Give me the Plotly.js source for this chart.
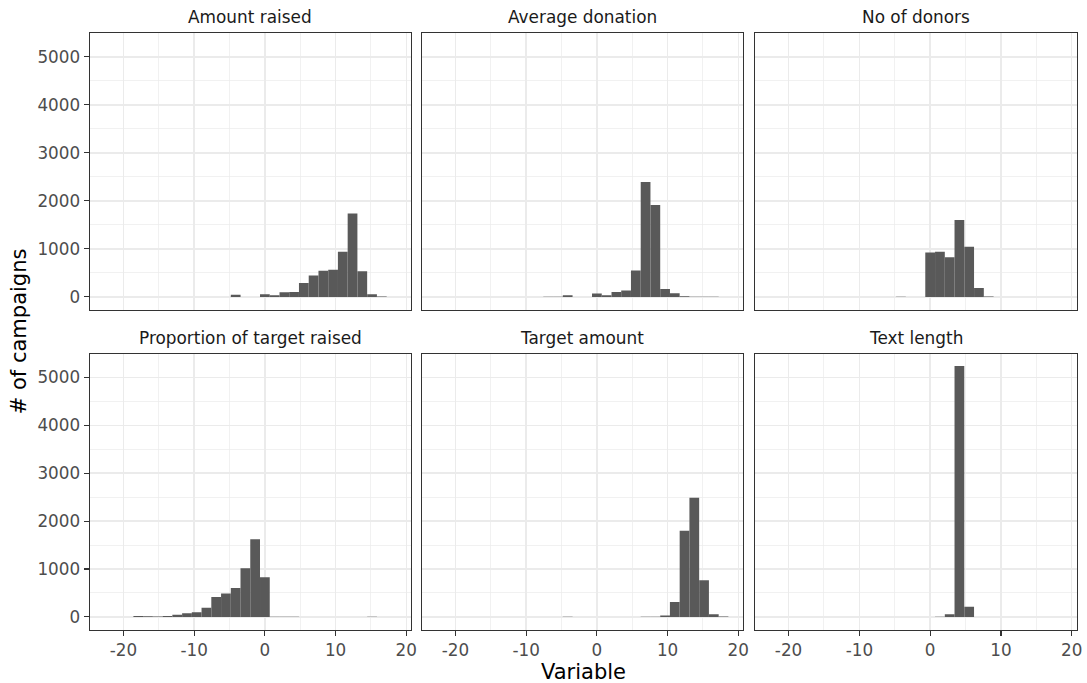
<!DOCTYPE html>
<html>
<head>
<meta charset="utf-8">
<script src="https://cdn.plot.ly/plotly-3.0.1.min.js"></script>
<style>
  html, body { margin: 0; padding: 0; background: #ffffff; }
  #chart { width: 1087px; height: 683px; }
</style>
</head>
<body>
<div id="chart"></div>
<script>
// ---- Data ----
const binWidth = 1.378;
const binCenters = [-22.05, -20.67, -19.29, -17.91, -16.54, -15.16, -13.78, -12.40, -11.02, -9.65,
                    -8.27, -6.89, -5.51, -4.13, -2.76, -1.38, 0.00, 1.38, 2.76, 4.13,
                    5.51, 6.89, 8.27, 9.65, 11.02, 12.40, 13.78, 15.16, 16.54, 17.91];

const panelTitles = ["Amount raised", "Average donation", "No of donors",
                     "Proportion of target raised", "Target amount", "Text length"];

const amountRaised     = [0,0,0,0,0,0,0,0,0,0, 0,0,0,45,0,0,55,35,95,100, 292,445,543,564,940,1740,536,56,8,0];
const averageDonation  = [0,0,0,0,0,0,0,0,0,0, 0,4,6,35,0,0,70,35,104,132, 550,2394,1914,167,77,14,3,3,3,0];
const noOfDonors       = [0,0,0,0,0,0,0,0,0,0, 0,0,0,4,0,0,925,940,828,1600, 1044,188,10,0,0,0,0,0,0,0];
const propTargetRaised = [0,0,0,20,14,7,20,48,76,97, 194,415,491,602,1017,1620,830,5,2,2, 0,0,0,0,0,0,0,3,0,0];
const targetAmount     = [0,0,0,0,0,0,0,0,0,0, 0,0,0,3,0,0,0,0,0,0, 0,4,6,28,312,1800,2486,764,55,8];
const textLength       = [0,0,0,0,0,0,0,0,0,0, 0,0,0,0,0,0,0,3,55,5235, 215,0,0,0,0,0,0,0,0,0];

const xTickVals = [-20, -10, 0, 10, 20];
const xTickText = ["-20", "-10", "0", "10", "20"];
const yTickVals = [0, 1000, 2000, 3000, 4000, 5000];
const yTickText = ["0", "1000", "2000", "3000", "4000", "5000"];

const xAxisTitle = "Variable";
const yAxisTitle = "# of campaigns";

// ---- Layout geometry ----
const W = 1087, H = 683;
const colsPx = [[89.5, 411], [421.5, 743], [754.5, 1076.5]];
const rowsPx = [[33, 309.5], [353.5, 629.5]];
const xRange = [-24.81, 20.67];
const yRange = [-262, 5497];

const series = [amountRaised, averageDonation, noOfDonors, propTargetRaised, targetAmount, textLength];

const FONT = "DejaVu Sans, sans-serif";
const TICK_SIZE = 16.8, STRIP_SIZE = 16.9, TITLE_SIZE = 21;
const traces = [];
const layout = {
  width: W, height: H,
  margin: {l: 0, r: 0, t: 0, b: 0},
  paper_bgcolor: "#ffffff",
  plot_bgcolor: "#ffffff",
  showlegend: false,
  font: {family: FONT, size: 16, color: "#4D4D4D"},
  annotations: []
};

series.forEach((vals, i) => {
  const r = Math.floor(i / 3), c = i % 3;
  const sfx = i === 0 ? "" : String(i + 1);
  traces.push({
    type: "bar",
    x: binCenters,
    y: vals,
    width: binWidth,
    marker: {color: "#595959", line: {width: 0}},
    xaxis: "x" + sfx,
    yaxis: "y" + sfx,
    hoverinfo: "x+y"
  });
  const dx = [colsPx[c][0] / W, colsPx[c][1] / W];
  const dy = [1 - rowsPx[r][1] / H, 1 - rowsPx[r][0] / H];
  const showX = r === 1, showY = c === 0;
  layout["xaxis" + sfx] = {
    domain: dx, range: xRange, anchor: "y" + sfx,
    tickvals: xTickVals, ticktext: xTickText,
    showticklabels: showX, ticks: showX ? "outside" : "",
    ticklen: 5, tickwidth: 1.1, tickcolor: "#333333",
    tickfont: {family: FONT, size: TICK_SIZE, color: "#4D4D4D"},
    showgrid: true, gridcolor: "#EBEBEB", gridwidth: 1.4,
    minor: {tickvals: [-15, -5, 5, 15], showgrid: true, gridcolor: "#EBEBEB", gridwidth: 0.7, ticks: ""},
    zeroline: false,
    showline: true, mirror: true, linecolor: "#333333", linewidth: 1,
    fixedrange: true
  };
  layout["yaxis" + sfx] = {
    domain: dy, range: yRange, anchor: "x" + sfx,
    tickvals: yTickVals, ticktext: yTickText,
    showticklabels: showY, ticks: showY ? "outside" : "",
    ticklen: 5, tickwidth: 1.1, tickcolor: "#333333",
    tickfont: {family: FONT, size: TICK_SIZE, color: "#4D4D4D"},
    showgrid: true, gridcolor: "#EBEBEB", gridwidth: 1.4,
    minor: {tickvals: [500, 1500, 2500, 3500, 4500], showgrid: true, gridcolor: "#EBEBEB", gridwidth: 0.7, ticks: ""},
    zeroline: false,
    showline: true, mirror: true, linecolor: "#333333", linewidth: 1,
    fixedrange: true
  };
  layout.annotations.push({
    text: panelTitles[i], xref: "paper", yref: "paper",
    x: (dx[0] + dx[1]) / 2, y: 1 - (rowsPx[r][0] - 16) / H,
    xanchor: "center", yanchor: "middle", showarrow: false,
    font: {family: FONT, size: STRIP_SIZE, color: "#1A1A1A"}
  });
});

layout.annotations.push({
  text: xAxisTitle, xref: "paper", yref: "paper",
  x: ((colsPx[0][0] + colsPx[2][1]) / 2) / W, y: 1 - 671.5 / H,
  xanchor: "center", yanchor: "middle", showarrow: false,
  font: {family: FONT, size: TITLE_SIZE, color: "#000000"}
});
layout.annotations.push({
  text: yAxisTitle, xref: "paper", yref: "paper",
  x: 19 / W, y: 1 - ((rowsPx[0][0] + rowsPx[1][1]) / 2) / H,
  xanchor: "center", yanchor: "middle", showarrow: false, textangle: -90,
  font: {family: FONT, size: TITLE_SIZE, color: "#000000"}
});

Plotly.newPlot("chart", traces, layout, {displayModeBar: false, staticPlot: true});
</script>
</body>
</html>
